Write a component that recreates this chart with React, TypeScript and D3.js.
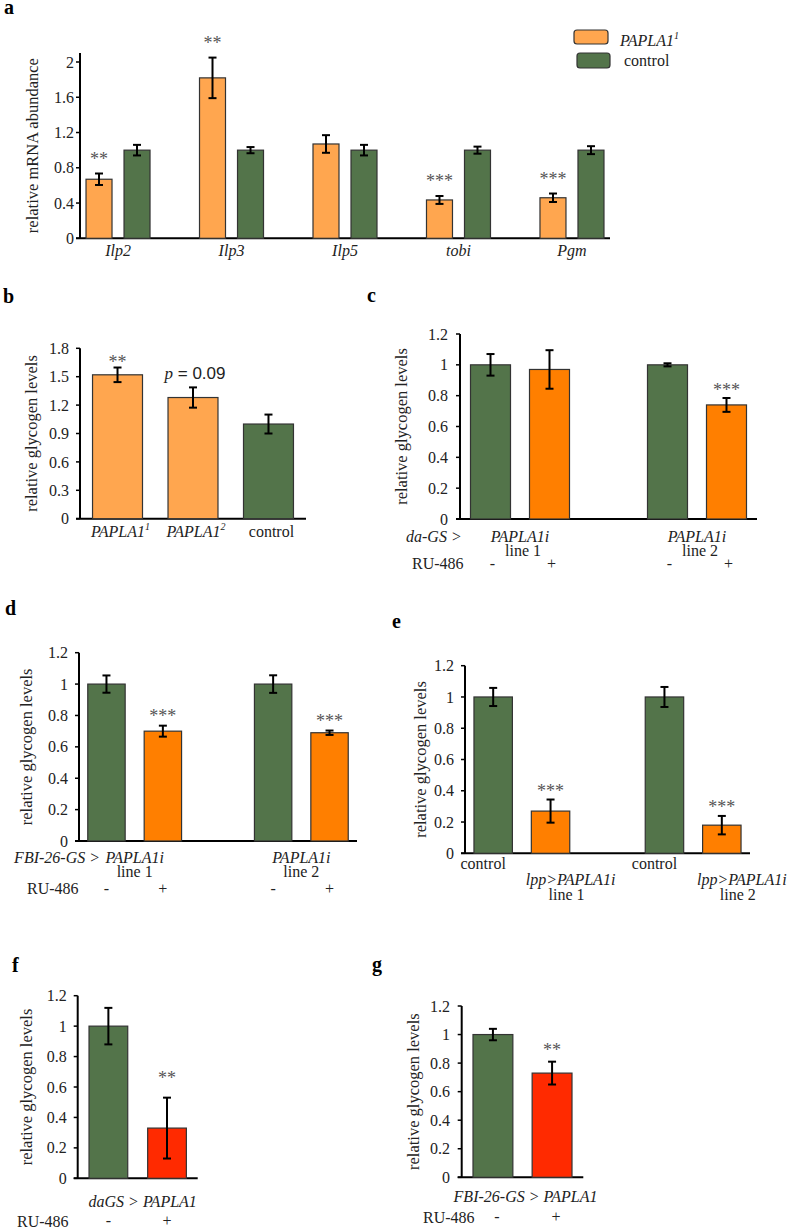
import React from "react";
import * as d3 from "d3";

const W = 787;
const H = 1229;
const SERIF = "Liberation Serif, Times New Roman, DejaVu Serif, serif";
const SANS = "Liberation Sans, Arial, DejaVu Sans, sans-serif";

const LIGHT_ORANGE = "#FFA64F";
const GREEN = "#53744A";
const ORANGE = "#FF7F00";
const RED = "#FF2A00";

// panel a - mRNA abundance
const genesA = ["Ilp2", "Ilp3", "Ilp5", "tobi", "Pgm"];
const paplaA = [0.67, 1.82, 1.07, 0.435, 0.46];
const paplaErrA = [0.065, 0.23, 0.1, 0.045, 0.048];
const controlA = [1, 1, 1, 1, 1];
const controlErrA = [0.06, 0.035, 0.06, 0.04, 0.045];
const sigA = ["**", "**", "", "***", "***"];
const ticksA = [0, 0.4, 0.8, 1.2, 1.6, 2];

// panel b - glycogen in mutants
const genotypesB = ["PAPLA1-1", "PAPLA1-2", "control"];
const valuesB = [1.52, 1.28, 1.0];
const errB = [0.077, 0.107, 0.1];
const sigB = ["**", "p = 0.09", ""];
const ticksB = [0, 0.3, 0.6, 0.9, 1.2, 1.5, 1.8];

// panels c-g share this axis
const ticksGly = [0, 0.2, 0.4, 0.6, 0.8, 1, 1.2];
const lines = ["line 1", "line 2"];
const ru = ["-", "+"];

// panel c - da-GS > PAPLA1i
const minusC = [1.0, 1.0];
const minusErrC = [0.07, 0.01];
const plusC = [0.97, 0.74];
const plusErrC = [0.125, 0.045];
const sigC = ["", "***"];

// panel d - FBI-26-GS > PAPLA1i
const minusD = [1.0, 1.0];
const minusErrD = [0.055, 0.056];
const plusD = [0.7, 0.69];
const plusErrD = [0.035, 0.014];
const sigD = ["***", "***"];

// panel e - lpp > PAPLA1i
const controlE = [1.0, 1.0];
const controlErrE = [0.058, 0.064];
const rnaiE = [0.27, 0.18];
const rnaiErrE = [0.074, 0.059];
const sigE = ["***", "***"];

// panel f - daGS > PAPLA1
const valuesF = [1.0, 0.33];
const errF = [0.12, 0.2];
const sigF = ["", "**"];

// panel g - FBI-26-GS > PAPLA1
const valuesG = [1.0, 0.73];
const errG = [0.04, 0.08];
const sigG = ["", "**"];

type BarSpec = {
  key: string;
  cx: number;
  w: number;
  v: number;
  err: number;
  fill: string;
  sig?: string;
};

const txt = { fontFamily: SERIF, fill: "#222" };

function Frame({ x0, x1, y, ticks, tickGap, axisTop, label, labelX }: any) {
  const yZero = y(0);
  const top = axisTop ?? y(ticks[ticks.length - 1]);
  return (
    <g>
      {ticks.map((t: number) => (
        <g key={t}>
          <line x1={x0 - 4} x2={x0} y1={y(t)} y2={y(t)} stroke="#000" strokeWidth={1.5} />
          <text x={x0 - tickGap} y={y(t)} dy="0.35em" textAnchor="end" style={{ ...txt, fontSize: 16 }}>
            {t}
          </text>
        </g>
      ))}
      <line x1={x0} x2={x0} y1={top} y2={yZero} stroke="#000" strokeWidth={2} />
      <line x1={x0 - 4} x2={x1} y1={yZero} y2={yZero} stroke="#000" strokeWidth={2} />
      <text
        transform={`translate(${labelX},${(top + yZero) / 2}) rotate(-90)`}
        textAnchor="middle"
        style={{ ...txt, fontSize: 16.5 }}
      >
        {label}
      </text>
    </g>
  );
}

function Bars({ bars, y, sigGap }: { bars: BarSpec[]; y: any; sigGap: number }) {
  return (
    <g>
      {bars.map((b) => {
        const top = y(b.v + b.err);
        const bot = y(b.v - b.err);
        return (
          <g key={b.key}>
            <rect
              x={b.cx - b.w / 2}
              y={y(b.v)}
              width={b.w}
              height={y(0) - y(b.v)}
              fill={b.fill}
              stroke="#333"
              strokeWidth={1.2}
            />
            <line x1={b.cx} x2={b.cx} y1={top} y2={bot} stroke="#000" strokeWidth={2} />
            <line x1={b.cx - 4} x2={b.cx + 4} y1={top} y2={top} stroke="#000" strokeWidth={2} />
            <line x1={b.cx - 4} x2={b.cx + 4} y1={bot} y2={bot} stroke="#000" strokeWidth={2} />
            {b.sig && b.sig.startsWith("p") ? (
              <text x={b.cx + 2} y={top - 8} textAnchor="middle" style={{ fill: "#222", fontSize: 17 }}>
                <tspan style={{ fontFamily: SERIF, fontStyle: "italic" }}>p</tspan>
                <tspan style={{ fontFamily: SANS }}>{b.sig.slice(1)}</tspan>
              </text>
            ) : b.sig ? (
              <text x={b.cx} y={top - sigGap} textAnchor="middle" style={{ ...txt, fill: "#555", fontSize: 18 }}>
                {b.sig}
              </text>
            ) : null}
          </g>
        );
      })}
    </g>
  );
}

function Letter({ x, y, c }: { x: number; y: number; c: string }) {
  return (
    <text x={x} y={y} style={{ fontFamily: SERIF, fontSize: 20, fontWeight: "bold", fill: "#000" }}>
      {c}
    </text>
  );
}

function T({ x, y, anchor = "start", italic = false, children }: any) {
  return (
    <text x={x} y={y} textAnchor={anchor} style={{ ...txt, fontSize: 16, fontStyle: italic ? "italic" : "normal" }}>
      {children}
    </text>
  );
}

export default function App() {
  // ---------- a ----------
  const xA = d3.scalePoint<string>().domain(genesA).range([80, 610]).padding(0.335);
  const subA = d3.scaleBand<string>().domain(["papla", "control"]).range([-32, 32]).paddingInner(0.316);
  const yA = d3.scaleLinear().domain([0, 2]).range([238.3, 62]);
  const barsA: BarSpec[] = genesA.flatMap((g, i) => [
    {
      key: g + "p",
      cx: xA(g)! + subA("papla")! + subA.bandwidth() / 2,
      w: subA.bandwidth(),
      v: paplaA[i],
      err: paplaErrA[i],
      fill: LIGHT_ORANGE,
      sig: sigA[i],
    },
    {
      key: g + "c",
      cx: xA(g)! + subA("control")! + subA.bandwidth() / 2,
      w: subA.bandwidth(),
      v: controlA[i],
      err: controlErrA[i],
      fill: GREEN,
    },
  ]);

  // ---------- b ----------
  const xB = d3.scaleBand<string>().domain(genotypesB).range([80, 306]).paddingInner(0.338).paddingOuter(0.166);
  const yB = d3.scaleLinear().domain([0, 1.8]).range([518.7, 348.3]);
  const barsB: BarSpec[] = genotypesB.map((g, i) => ({
    key: g,
    cx: xB(g)! + xB.bandwidth() / 2,
    w: xB.bandwidth(),
    v: valuesB[i],
    err: errB[i],
    fill: g === "control" ? GREEN : LIGHT_ORANGE,
    sig: sigB[i],
  }));

  // ---------- c ----------
  const xC = d3.scalePoint<string>().domain(lines).range([460, 757]).padding(0.339);
  const subC = d3.scaleBand<string>().domain(ru).range([-49.5, 49.5]).paddingInner(0.322);
  const yC = d3.scaleLinear().domain([0, 1.2]).range([519, 334]);
  const barsC: BarSpec[] = lines.flatMap((l, i) => [
    { key: l + "-", cx: xC(l)! + subC("-")! + subC.bandwidth() / 2, w: subC.bandwidth(), v: minusC[i], err: minusErrC[i], fill: GREEN },
    { key: l + "+", cx: xC(l)! + subC("+")! + subC.bandwidth() / 2, w: subC.bandwidth(), v: plusC[i], err: plusErrC[i], fill: ORANGE, sig: sigC[i] },
  ]);

  // ---------- d ----------
  const xD = d3.scalePoint<string>().domain(lines).range([79, 357]).padding(0.334);
  const subD = d3.scaleBand<string>().domain(ru).range([-46.9, 46.9]).paddingInner(0.337);
  const yD = d3.scaleLinear().domain([0, 1.2]).range([841, 652.7]);
  const barsD: BarSpec[] = lines.flatMap((l, i) => [
    { key: l + "-", cx: xD(l)! + subD("-")! + subD.bandwidth() / 2, w: subD.bandwidth(), v: minusD[i], err: minusErrD[i], fill: GREEN },
    { key: l + "+", cx: xD(l)! + subD("+")! + subD.bandwidth() / 2, w: subD.bandwidth(), v: plusD[i], err: plusErrD[i], fill: ORANGE, sig: sigD[i] },
  ]);

  // ---------- e ----------
  const xE = d3.scalePoint<string>().domain(lines).range([465, 750]).padding(0.332);
  const subE = d3.scaleBand<string>().domain(["control", "rnai"]).range([-47.9, 47.9]).paddingInner(0.33);
  const yE = d3.scaleLinear().domain([0, 1.2]).range([853.3, 665.7]);
  const barsE: BarSpec[] = lines.flatMap((l, i) => [
    { key: l + "c", cx: xE(l)! + subE("control")! + subE.bandwidth() / 2, w: subE.bandwidth(), v: controlE[i], err: controlErrE[i], fill: GREEN },
    { key: l + "r", cx: xE(l)! + subE("rnai")! + subE.bandwidth() / 2, w: subE.bandwidth(), v: rnaiE[i], err: rnaiErrE[i], fill: ORANGE, sig: sigE[i] },
  ]);

  // ---------- f ----------
  const xF = d3.scaleBand<string>().domain(ru).range([77.7, 197.7]).paddingInner(0.34).paddingOuter(0.193);
  const yF = d3.scaleLinear().domain([0, 1.2]).range([1178.3, 995.7]);
  const barsF: BarSpec[] = ru.map((r, i) => ({
    key: r,
    cx: xF(r)! + xF.bandwidth() / 2,
    w: xF.bandwidth(),
    v: valuesF[i],
    err: errF[i],
    fill: r === "-" ? GREEN : RED,
    sig: sigF[i],
  }));

  // ---------- g ----------
  const xG = d3.scaleBand<string>().domain(ru).range([461.7, 583.3]).paddingInner(0.326).paddingOuter(0.191);
  const yG = d3.scaleLinear().domain([0, 1.2]).range([1177.3, 1006]);
  const barsG: BarSpec[] = ru.map((r, i) => ({
    key: r,
    cx: xG(r)! + xG.bandwidth() / 2,
    w: xG.bandwidth(),
    v: valuesG[i],
    err: errG[i],
    fill: r === "-" ? GREEN : RED,
    sig: sigG[i],
  }));

  const glyLabel = "relative glycogen levels";

  return (
    <svg
      width={W}
      height={H}
      viewBox={`0 0 ${W} ${H}`}
      style={{ position: "absolute", left: 0, top: 0, background: "#fff", fontFamily: SERIF }}
    >
      <rect width={W} height={H} fill="#fff" />

      {/* a */}
      <Letter x={4} y={14} c="a" />
      <Frame x0={80} x1={610} y={yA} ticks={ticksA} tickGap={6} axisTop={yA(2) - 9} label="relative mRNA abundance" labelX={37.5} />
      <Bars bars={barsA} y={yA} sigGap={9} />
      {genesA.map((g) => (
        <T key={g} x={xA(g)} y={255.5} anchor="middle" italic>
          {g}
        </T>
      ))}
      <rect x={574} y={30} width={34} height={14} rx={3} fill={LIGHT_ORANGE} stroke="#333" strokeWidth={1.2} />
      <rect x={577} y={53} width={33} height={15} rx={3} fill={GREEN} stroke="#333" strokeWidth={1.2} />
      <T x={620} y={45.5} italic>
        PAPLA1<tspan style={{ fontSize: 10 }} dy={-7}>1</tspan>
      </T>
      <T x={624} y={65.5}>control</T>

      {/* b */}
      <Letter x={3} y={303} c="b" />
      <Frame x0={80} x1={306} y={yB} ticks={ticksB} tickGap={11} label={glyLabel} labelX={37} />
      <Bars bars={barsB} y={yB} sigGap={0} />
      {genotypesB.map((g) => {
        const [base, sup] = g.split("-");
        return (
          <T key={g} x={xB(g)! + xB.bandwidth() / 2 + 3} y={537} anchor="middle" italic={!!sup}>
            {base}
            {sup && <tspan style={{ fontSize: 10 }} dy={-7}>{sup}</tspan>}
          </T>
        );
      })}

      {/* c */}
      <Letter x={367} y={302} c="c" />
      <Frame x0={460} x1={757} y={yC} ticks={ticksGly} tickGap={12} label={glyLabel} labelX={407} />
      <Bars bars={barsC} y={yC} sigGap={2} />
      <T x={461.7} y={541.7} anchor="end" italic>da-GS &gt;</T>
      <T x={412} y={568.5}>RU-486</T>
      {lines.map((l) => (
        <g key={l}>
          <T x={xC(l)} y={541.7} anchor="middle" italic>PAPLA1i</T>
          <T x={xC(l)! + 3} y={556} anchor="middle">{l}</T>
        </g>
      ))}
      {barsC.map((b, i) => (
        <T key={b.key} x={b.cx + 2} y={568.5} anchor="middle">{ru[i % 2]}</T>
      ))}

      {/* d */}
      <Letter x={5} y={615} c="d" />
      <Frame x0={79} x1={357} y={yD} ticks={ticksGly} tickGap={11} label={glyLabel} labelX={32} />
      <Bars bars={barsD} y={yD} sigGap={3.5} />
      <T x={100} y={862.7} anchor="end" italic>FBI-26-GS &gt;</T>
      <T x={27} y={894}>RU-486</T>
      {lines.map((l) => (
        <g key={l}>
          <T x={xD(l)} y={862.7} anchor="middle" italic>PAPLA1i</T>
          <T x={xD(l)} y={877} anchor="middle">{l}</T>
        </g>
      ))}
      {barsD.map((b, i) => (
        <T key={b.key} x={b.cx} y={894} anchor="middle">{ru[i % 2]}</T>
      ))}

      {/* e */}
      <Letter x={392} y={628} c="e" />
      <Frame x0={465} x1={750} y={yE} ticks={ticksGly} tickGap={11} label={glyLabel} labelX={425.5} />
      <Bars bars={barsE} y={yE} sigGap={2.5} />
      {barsE.map((b, i) =>
        i % 2 === 0 ? (
          <T key={b.key} x={b.cx - 10} y={869.3} anchor="middle">control</T>
        ) : (
          <g key={b.key}>
            <T x={b.cx + 20} y={885} anchor="middle" italic>lpp&gt;PAPLA1i</T>
            <T x={b.cx + 16} y={900} anchor="middle">{lines[(i - 1) / 2]}</T>
          </g>
        )
      )}

      {/* f */}
      <Letter x={12} y={971.7} c="f" />
      <Frame x0={77.7} x1={197.7} y={yF} ticks={ticksGly} tickGap={11} label={glyLabel} labelX={32} />
      <Bars bars={barsF} y={yF} sigGap={14} />
      <T x={(barsF[0].cx + barsF[1].cx) / 2 + 5} y={1206.7} anchor="middle" italic>
        daGS &gt; PAPLA1
      </T>
      <T x={17} y={1226.7}>RU-486</T>
      {barsF.map((b, i) => (
        <T key={b.key} x={b.cx} y={1226} anchor="middle">{ru[i]}</T>
      ))}

      {/* g */}
      <Letter x={372} y={971} c="g" />
      <Frame x0={461.7} x1={583.3} y={yG} ticks={ticksGly} tickGap={11.7} label={glyLabel} labelX={419} />
      <Bars bars={barsG} y={yG} sigGap={6} />
      <T x={(barsG[0].cx + barsG[1].cx) / 2 + 3} y={1201.7} anchor="middle" italic>
        FBI-26-GS &gt; PAPLA1
      </T>
      <T x={423} y={1222.7}>RU-486</T>
      {barsG.map((b, i) => (
        <T key={b.key} x={b.cx + 4} y={1222} anchor="middle">{ru[i]}</T>
      ))}
    </svg>
  );
}
